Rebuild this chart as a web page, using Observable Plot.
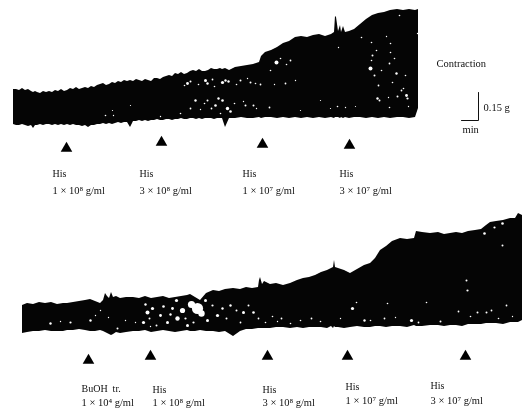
<!DOCTYPE html>
<html><head><meta charset="utf-8">
<script src="https://cdn.jsdelivr.net/npm/d3@7"></script>
<script src="https://cdn.jsdelivr.net/npm/@observablehq/plot@0.6"></script>
<style>html,body{margin:0;padding:0;background:#fff}svg{display:block;filter:blur(.35px)}</style>
</head><body><div id="c"></div>
<script>
// Upper tracing
const upperTime = [13,16,19,22,25,28,31,33,35,37,40,43,46,49,52,55,58,61,64,67,70,73,76,79,82,85,88,91,94,97,100,103,106,109,112,115,118,121,124,127,130,133,136,139,142,145,148,151,154,157,160,163,166,169,172,175,178,181,184,187,190,193,196,199,202,205,208,211,214,217,220,222,225,229,235,241,247,253,259,261,265,271,277,283,289,295,301,307,313,319,325,331,334,335,336,338,340,341,343,345,349,354,360,366,372,378,384,390,397,403,409,415,418];
const upperTop = [89,89,90,88,90,89,91,92,91,92,93,91,92,91,92,90,91,89,91,90,88,89,87,89,88,87,88,86,87,85,84,83,85,84,82,83,81,82,80,81,80,81,79,80,81,79,80,81,78,78,79,77,76,75,76,73,74,72,74,73,71,70,71,69,71,71,70,68,69,69,68,69,68,70,67,66,65,64,62,56,52,50,47,43,41,37,36,37,35,34,36,34,32,16,17,31,25,32,26,32,31,29,24,19,15,13,12,10,9,10,9,10,9];
const upperBottom = [124,125,125,124,125,126,125,128,125,125,124,125,124,124,125,124,125,124,125,124,125,124,125,125,126,125,127,125,125,124,124,123,124,123,124,123,122,123,122,122,127,121,121,120,121,120,121,120,120,119,120,120,119,119,120,119,119,118,119,119,118,118,119,118,119,118,118,118,119,118,118,118,127,118,118,117,118,118,117,118,117,117,118,117,118,117,118,117,118,117,118,117,118,117,117,117,118,117,118,117,118,117,117,118,117,118,117,118,117,117,118,117,108];
const upperGapT = [187,190,205,207,222,225,228,240,250,260,195,207,218,222,215,227,230,245,253,105,113,180,190,276,290,285,370,377,406,389,396,376,399,371,407,401,337,269,389,371,390,361,338,417,379, 184,198,212,214,236,247,255,204,211,220,234,243,256,112,130,160,200,270,274,280,286,295,372,374,378,381,390,392,394,397,403,405,408,388,386,345,355,300,320,330];
const upperGapV = [83,81,80,83,82,80,81,80,82,84,100,100,98,100,105,108,111,105,105,115,115,113,108,62,60,83,68,98,95,63,73,50,15,42,98,90,106,107,107,60,43,37,47,33,100, 85,84,79,86,84,78,83,103,108,113,103,101,108,110,105,116,109,70,84,58,64,80,55,75,85,70,52,82,58,96,88,75,106,97,36,107,106,110,100,108];
const upperGapR = [1.4,1,1.5,1.2,1.6,1.2,1.2,1,1,.9,1.2,1,1.2,1.3,1.3,1.7,1.3,1,1,.8,.7,.8,.9,2,.9,.9,2,1.2,1.4,.9,1.2,.8,.8,.8,1.1,.9,.8,.9,.8,.8,.8,.8,.7,.7,1, .8,.8,.9,.8,.8,.7,.8,.8,.9,.8,.8,.7,.7,.6,.6,.7,.7,.8,.7,.8,.8,.7,1,1,.9,.8,.8,.8,.8,1,.8,.8,.7,.7,.7,.7,.6,.6,.6,.6];

// Lower tracing
const lowerTime = [22,27,33,39,45,51,57,63,67,73,79,85,90,95,100,103,105,107,109,111,113,116,120,126,133,139,145,151,157,163,169,175,181,187,190,195,200,206,213,219,225,233,240,246,252,258,259,260,262,264,270,276,283,290,297,303,309,315,321,327,331,333,334,335,338,344,350,357,364,370,375,380,386,392,400,407,414,416,422,430,438,444,450,456,462,468,475,481,486,490,496,503,510,515,518,520,522];
const lowerTop = [305,303,304,302,303,302,304,303,303,302,301,300,299,301,303,300,293,296,298,292,297,296,298,297,297,298,296,298,297,296,298,297,296,295,294,297,300,293,290,291,289,288,289,287,288,287,280,277,284,281,284,283,285,283,280,278,277,275,272,270,268,267,260,267,268,270,273,269,265,263,258,250,246,241,238,239,238,231,232,233,232,234,233,232,233,231,230,229,225,222,221,220,218,218,213,214,215];
const lowerBottom = [333,332,331,331,330,331,331,331,330,330,329,330,331,331,330,331,332,333,334,335,334,332,333,332,331,331,330,332,331,330,331,332,331,330,331,331,330,331,331,332,331,336,331,329,329,328,328,328,328,328,328,327,327,328,327,328,327,327,327,328,326,328,326,327,327,328,327,326,327,327,326,326,327,326,326,327,325,326,326,325,325,326,325,325,326,324,324,324,323,323,323,324,322,322,322,321,320];
const lowerGapT = [197,191,201,182,147,177,50,70,90,117,143,152,217,230,243,253,207,187,167,352,364,411,467,477,484,502,494,311,281,387,466,502,426,486,506,384,205,160,172, 145,149,156,163,170,176,185,193,212,222,226,236,240,248,258,265,272,277,290,300,320,340,356,370,395,418,440,458,470,491,498,512,95,60,108,125,135,150,100];
const lowerGapV = [308,304,313,310,312,318,323,322,320,328,322,308,315,305,312,312,320,325,322,308,320,320,290,312,233,223,227,318,318,303,280,245,302,312,305,318,300,315,308, 304,318,325,306,314,300,318,322,305,308,318,310,322,305,318,322,316,321,323,320,321,318,302,320,317,322,321,311,316,310,318,316,315,321,317,320,322,326,310];
const lowerGapR = [5.6,3.6,3.2,2.6,2,2.2,1.2,1.1,1.2,1,1.6,1.6,1.6,1.2,1.5,1.3,1.5,1.5,1.5,1.6,1.2,1.6,1.1,1,1.3,1.3,1.1,.9,.9,.8,1,1,.8,1,.9,.9,1.5,1.4,1.4, 1.2,1,1,1.3,1.2,1.6,1.1,1.1,1.1,1.2,1,1,.9,1,.9,.8,.8,.7,.8,.8,.8,.7,.8,.8,.7,.9,1,.9,.8,.9,.8,.7,.7,.7,.7,.7,.7,.7,.7];

// Dose arrowheads
const doseT = [66,161,262,349,88,150,267,347,465];
const doseV = [148,142,144,145,360,356,356,356,356];

// Annotations
const labelT = [52,139,242,339,81,152,262,345,430];
const nameV = [173,173,173,173,388,389,389,386,385];
const concV = [190,190,190,190,402,402,402,400,400];
const names = ["His","His","His","His","BuOH  tr.","His","His","His","His"];
const concs = ["1 × 10⁸ g/ml","3 × 10⁸ g/ml","1 × 10⁷ g/ml","3 × 10⁷ g/ml","1 × 10⁴ g/ml","1 × 10⁸ g/ml","3 × 10⁸ g/ml","1 × 10⁷ g/ml","3 × 10⁷ g/ml"];
const barT = [461,478,478];
const barV = [120,120,92];

const trace = (time, top, bottom) => time.map((t, i) => ({t, top: top[i], bottom: bottom[i]}));
const gaps = (ts, vs, rs) => ts.map((t, i) => ({t, v: vs[i], r: rs[i]}));
const font = {fontFamily: "Liberation Serif", fill: "#111", textAnchor: "start"};

const chart = Plot.plot({
  width: 528, height: 409, margin: 0,
  x: {domain: [0, 528], range: [0, 528], axis: null},
  y: {domain: [409, 0], range: [409, 0], axis: null},
  r: {type: "identity"},
  marks: [
    Plot.areaY(trace(upperTime, upperTop, upperBottom), {x: "t", y1: "top", y2: "bottom", fill: "#050505"}),
    Plot.areaY(trace(lowerTime, lowerTop, lowerBottom), {x: "t", y1: "top", y2: "bottom", fill: "#050505"}),
    Plot.dot(gaps(upperGapT, upperGapV, upperGapR), {x: "t", y: "v", r: "r", fill: "#fff"}),
    Plot.dot(gaps(lowerGapT, lowerGapV, lowerGapR), {x: "t", y: "v", r: "r", fill: "#fff"}),
    Plot.dot(doseT.map((t, i) => ({t, v: doseV[i]})), {x: "t", y: "v", symbol: "triangle", r: 4.3, fill: "#000"}),
    Plot.text(labelT.map((t, i) => ({t, v: nameV[i], s: names[i]})), {x: "t", y: "v", text: "s", fontSize: 10, ...font}),
    Plot.text(labelT.map((t, i) => ({t, v: concV[i], s: concs[i]})), {x: "t", y: "v", text: "s", fontSize: 10.5, ...font}),
    Plot.text([{t: 436, v: 63, s: "Contraction"}], {x: "t", y: "v", text: "s", fontSize: 10.5, ...font}),
    Plot.text([{t: 483, v: 107, s: "0.15 g"}], {x: "t", y: "v", text: "s", fontSize: 10.5, ...font}),
    Plot.text([{t: 462, v: 129, s: "min"}], {x: "t", y: "v", text: "s", fontSize: 10.5, ...font}),
    Plot.line(barT.map((t, i) => ({t, v: barV[i]})), {x: "t", y: "v", stroke: "#111", strokeWidth: 1})
  ]
});
document.getElementById("c").append(chart);
</script></body></html>
